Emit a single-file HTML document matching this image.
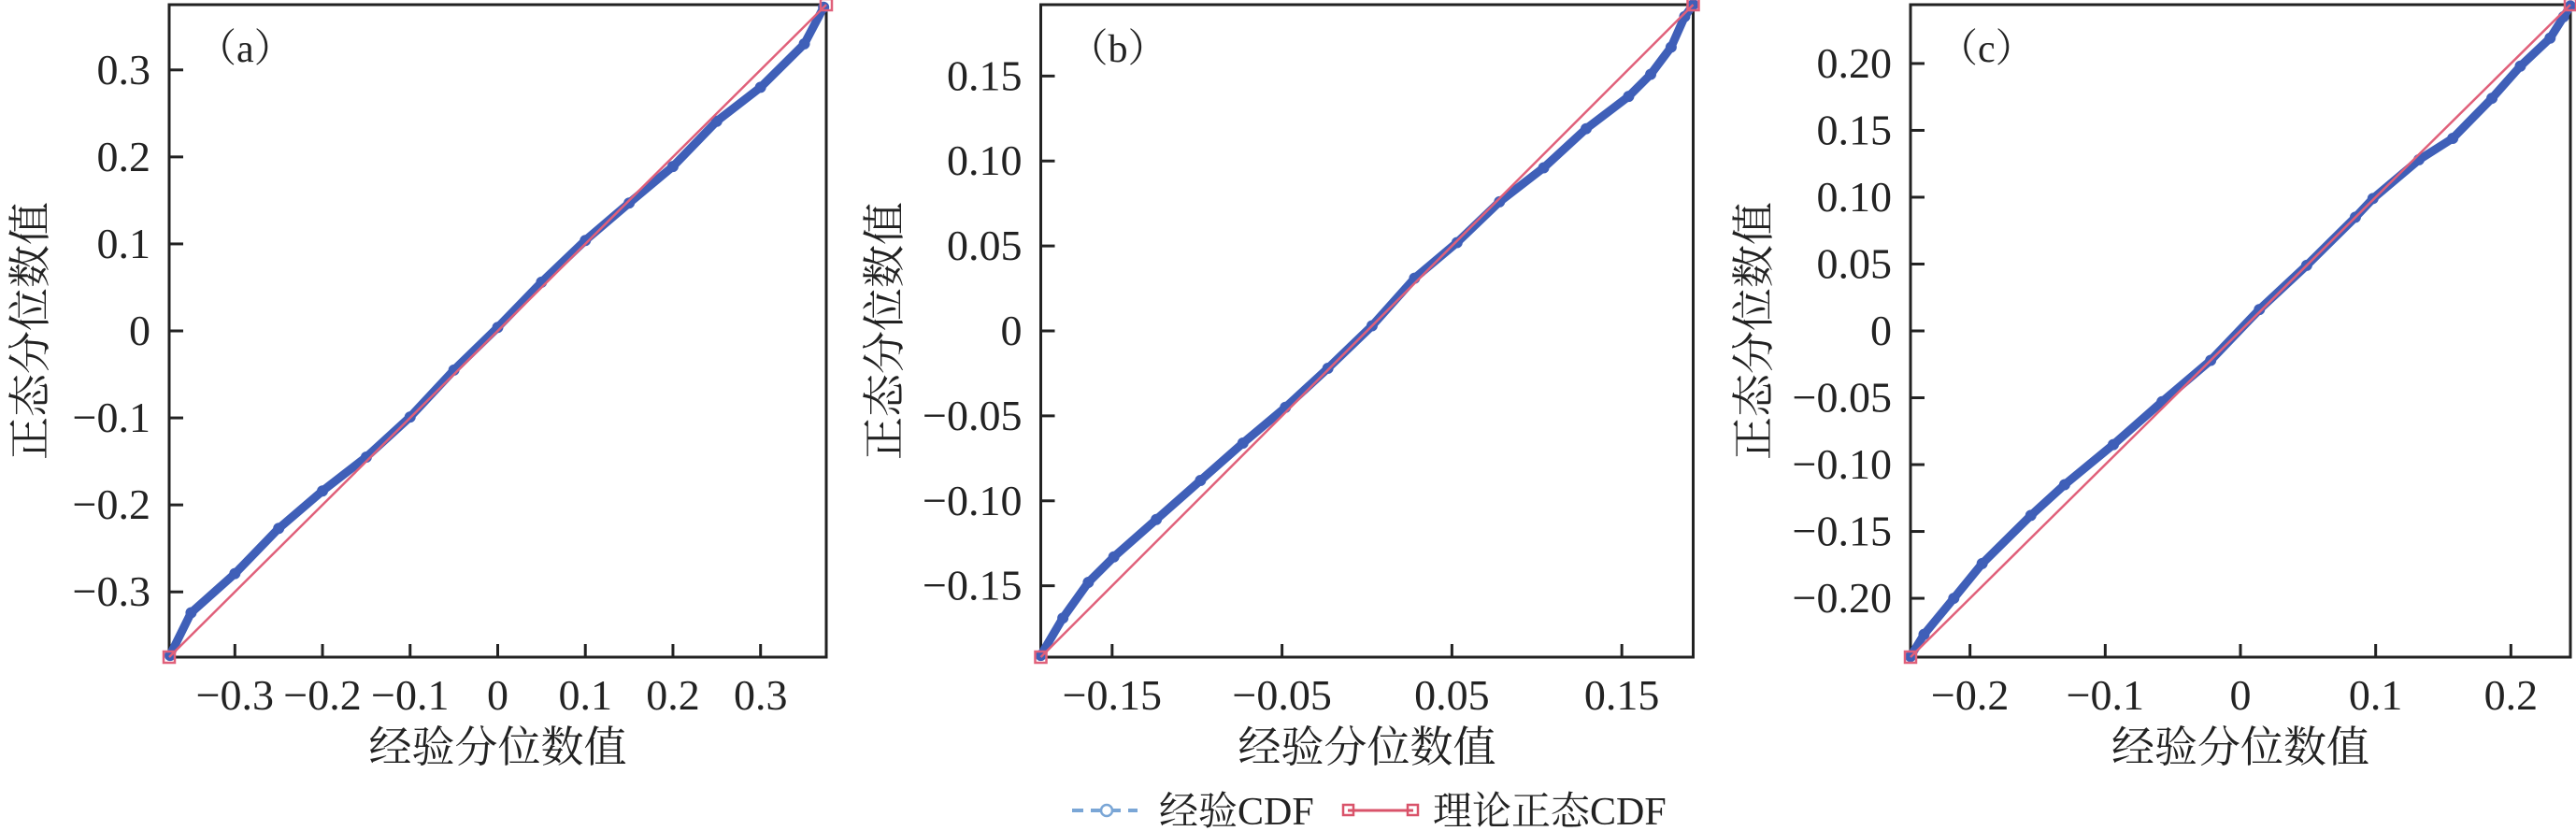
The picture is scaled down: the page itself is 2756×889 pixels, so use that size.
<!DOCTYPE html>
<html><head><meta charset="utf-8"><style>
html,body{margin:0;padding:0;background:#fff;}
svg{display:block;}
text{font-family:"Liberation Serif","Noto Serif CJK SC",serif;fill:#222;}
</style></head><body>
<svg id="fig" width="2756" height="889" viewBox="0 0 2756 889" xmlns="http://www.w3.org/2000/svg">
<g id="legend">
  <g>
    <line x1="1147" y1="867" x2="1217" y2="867" stroke="#7aa6d6" stroke-width="4" stroke-dasharray="12,8"/>
    <circle cx="1184" cy="867" r="6" fill="#fff" stroke="#7aa6d6" stroke-width="2.5"/>
    <text x="1240" y="882" font-size="42">经验CDF</text>
  </g>
  <g>
    <line x1="1442" y1="867" x2="1512" y2="867" stroke="#d9536a" stroke-width="3"/>
    <rect x="1437" y="861" width="11" height="11" fill="none" stroke="#d9536a" stroke-width="2.5"/>
    <rect x="1506" y="861" width="11" height="11" fill="none" stroke="#d9536a" stroke-width="2.5"/>
    <text x="1533" y="882" font-size="42">理论正态CDF</text>
  </g>
</g>
</svg>
<script>
// Panel (a)
const aEmpX = [-0.374,-0.35,-0.3,-0.25,-0.2,-0.15,-0.1,-0.05,0,0.05,0.1,0.15,0.2,0.25,0.3,0.35,0.372];
const aEmpY = [-0.373,-0.324,-0.279,-0.227,-0.184,-0.145,-0.099,-0.045,0.004,0.056,0.104,0.147,0.189,0.241,0.28,0.33,0.372];
const aTicks = [-0.3,-0.2,-0.1,0,0.1,0.2,0.3];
const aTickLabels = ["−0.3","−0.2","−0.1","0","0.1","0.2","0.3"];
// Panel (b)
const bEmpX = [-0.192,-0.179,-0.164,-0.149,-0.124,-0.098,-0.073,-0.048,-0.023,0.003,0.028,0.053,0.078,0.104,0.129,0.154,0.167,0.179,0.187,0.192];
const bEmpY = [-0.191,-0.169,-0.148,-0.133,-0.111,-0.088,-0.066,-0.045,-0.022,0.003,0.031,0.052,0.076,0.096,0.119,0.138,0.151,0.167,0.185,0.192];
const bXTicks = [-0.15,-0.05,0.05,0.15];
const bXTickLabels = ["−0.15","−0.05","0.05","0.15"];
const bYTicks = [-0.15,-0.1,-0.05,0,0.05,0.1,0.15];
const bYTickLabels = ["−0.15","−0.10","−0.05","0","0.05","0.10","0.15"];
// Panel (c)
const cEmpX = [-0.244,-0.234,-0.212,-0.191,-0.155,-0.13,-0.094,-0.058,-0.022,0.014,0.049,0.085,0.098,0.132,0.157,0.186,0.207,0.229,0.239,0.244];
const cEmpY = [-0.2435,-0.227,-0.2,-0.174,-0.138,-0.115,-0.085,-0.053,-0.022,0.016,0.049,0.085,0.099,0.128,0.144,0.174,0.198,0.219,0.235,0.243];
const cXTicks = [-0.2,-0.1,0,0.1,0.2];
const cXTickLabels = ["−0.2","−0.1","0","0.1","0.2"];
const cYTicks = [-0.2,-0.15,-0.1,-0.05,0,0.05,0.1,0.15,0.2];
const cYTickLabels = ["−0.20","−0.15","−0.10","−0.05","0","0.05","0.10","0.15","0.20"];

const NS = "http://www.w3.org/2000/svg";
const svg = document.getElementById('fig');
function mk(tag, attrs, parent){
  const e = document.createElementNS(NS, tag);
  for (const k in attrs) e.setAttribute(k, attrs[k]);
  parent.appendChild(e);
  return e;
}
function panel(cfg){
  const g = mk('g', {}, svg);
  
  
  const sx = v => cfg.L + (v - cfg.min) / (cfg.max - cfg.min) * (cfg.R - cfg.L);
  const sy = v => cfg.B - (v - cfg.min) / (cfg.max - cfg.min) * (cfg.B - cfg.T);
  const fr = mk('rect', {x:cfg.L, y:cfg.T, width:cfg.R-cfg.L, height:cfg.B-cfg.T, fill:'none', stroke:'#222', 'stroke-width':3}, g);
  
  
  cfg.xt.forEach((t,i)=>{
    const x = sx(t);
    const tk = mk('line', {x1:x, y1:cfg.B, x2:x, y2:cfg.B-14, stroke:'#222', 'stroke-width':3}, g);
    
    
    const lb = mk('text', {x:x, y:cfg.B+56, 'font-size':46, 'text-anchor':'middle'}, g);
    lb.textContent = cfg.xl[i];
    
    
  });
  cfg.yt.forEach((t,i)=>{
    const y = sy(t);
    const tk = mk('line', {x1:cfg.L, y1:y, x2:cfg.L+15, y2:y, stroke:'#222', 'stroke-width':3}, g);
    
    
    const lb = mk('text', {x:cfg.L-20, y:y+15, 'font-size':46, 'text-anchor':'end'}, g);
    lb.textContent = cfg.yl[i];
    
    
  });
  const pts = cfg.ex.map((v,i)=> sx(v).toFixed(1)+','+sy(cfg.ey[i]).toFixed(1)).join(' ');
  const pl = mk('polyline', {points:pts, fill:'none', stroke:'#3f5fb8', 'stroke-width':9, 'stroke-linejoin':'round', 'stroke-linecap':'round'}, g);
  
  
  cfg.ex.forEach((v,i)=>{
    const c = mk('circle', {cx:sx(v), cy:sy(cfg.ey[i]), r:5, fill:'none', stroke:'#3f5fb8', 'stroke-width':2}, g);
    
    
  });
  const rl = mk('line', {x1:sx(cfg.min), y1:sy(cfg.min), x2:sx(cfg.max), y2:sy(cfg.max), stroke:'#e0607a', 'stroke-width':2.5}, g);
  
  
  [[cfg.min,cfg.min],[cfg.max,cfg.max]].forEach(p=>{
    const r = mk('rect', {x:sx(p[0])-6, y:sy(p[1])-6, width:12, height:12, fill:'none', stroke:'#e0607a', 'stroke-width':2.5}, g);
    
    
  });
  const pln = mk('text', {x:cfg.L+30, y:66, 'font-size':42}, g);
  pln.textContent = '（' + cfg.id + '）';
  
  
  const xt = mk('text', {x:(cfg.L+cfg.R)/2, y:815, 'font-size':46, 'text-anchor':'middle'}, g);
  xt.textContent = '经验分位数值';
  
  
  const yt = mk('text', {x:0, y:0, 'font-size':46, 'text-anchor':'middle', transform:'translate('+(cfg.yTitleX)+',354) rotate(-90)'}, g);
  yt.textContent = '正态分位数值';
  
  
}
panel({id:'a', L:181, R:884, T:5, B:703, min:-0.375, max:0.375, xt:aTicks, xl:aTickLabels, yt:aTicks, yl:aTickLabels, ex:aEmpX, ey:aEmpY, yTitleX:48});
panel({id:'b', L:1113.5, R:1811.5, T:5, B:703, min:-0.192, max:0.192, xt:bXTicks, xl:bXTickLabels, yt:bYTicks, yl:bYTickLabels, ex:bEmpX, ey:bEmpY, yTitleX:962});
panel({id:'c', L:2044, R:2750, T:5, B:703, min:-0.244, max:0.244, xt:cXTicks, xl:cXTickLabels, yt:cYTicks, yl:cYTickLabels, ex:cEmpX, ey:cEmpY, yTitleX:1892});
</script>
</body></html>
